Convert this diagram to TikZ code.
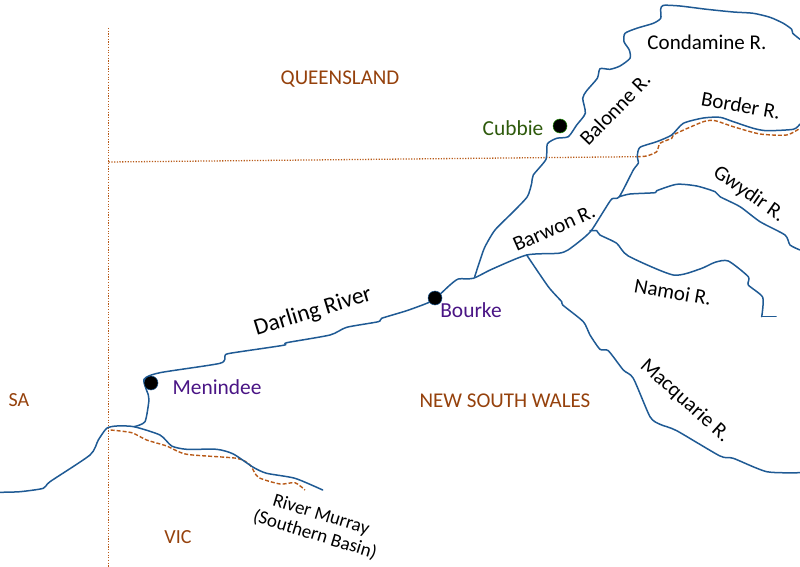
\documentclass[tikz,border=0pt]{standalone}
\usepackage{fontspec}
\setmainfont{Carlito}
\usepackage{xcolor}
\usetikzlibrary{shapes.geometric}
\definecolor{riverblue}{HTML}{1F5A94}
\definecolor{borderbrown}{HTML}{B85A18}
\definecolor{statebrown}{HTML}{95410C}
\definecolor{townpurple}{HTML}{4A1585}
\definecolor{farmgreen}{HTML}{2E5A0C}
\tikzstyle{river} = [draw=riverblue, line width=1.5pt, line join=round, line cap=round]
\tikzstyle{border} = [draw=borderbrown, line width=1.4pt, dash pattern=on 4pt off 2pt]
\tikzstyle{stateline} = [draw=borderbrown, line width=1.3pt, dash pattern=on 1.2pt off 1.5pt]
\tikzstyle{statename} = [text=statebrown, font=\fontsize{21}{24}\selectfont, inner sep=0pt]
\tikzstyle{rivername} = [text=black, font=\fontsize{21}{24}\selectfont, inner sep=0pt, align=center]
\tikzstyle{town} = [circle, fill=black, draw=riverblue, line width=0.5pt, minimum size=14pt, inner sep=0pt]
\tikzstyle{townname} = [text=townpurple, font=\fontsize{21.4}{24}\selectfont, inner sep=0pt]

\begin{document}
\begin{tikzpicture}[x=1pt,y=-1pt]
    \useasboundingbox (0,0) rectangle (800,567);

    % state borders
    \draw [stateline] (108.7,28) -- (108.7,567);
    \draw [stateline] (108.7,162) -- (636.7,156.7);
    \draw [border] plot[smooth, tension=0.4] coordinates {(636.7,156.7) (646.7,156) (656.7,151.7) (660,143.3) (671.7,138.3) (675,134) (703.3,121.7) (715,120.7) (733.3,126.7) (760,134) (786.7,135) (800,128.3)};
    \draw [border] plot[smooth, tension=0.4] coordinates {(110.7,430) (131.7,432.7) (146.7,440) (166.7,446) (186.7,454.3) (236.7,458.3) (250,465) (258.3,477.3) (280,484) (295,482.7) (305,490)};

    % rivers
    \draw [river] plot[smooth, tension=0.4] coordinates {(800,39.3) (792.7,33.3) (791.7,29.3) (783.3,23.3) (770,17.3) (753.3,13.3) (733.3,12) (706.7,9.3) (680,6) (663.3,5.3) (660.7,9.3) (660.7,18.3) (653.3,23.3) (636.7,28.3) (625,33.3) (624,41.7) (629.3,50) (630,58.3) (620,66) (610,69.3) (600,68.7) (597.3,78.3) (586.7,90.7) (582.7,98.3) (585.3,113.3) (576.7,125) (568.3,136.7) (556.7,138.3) (547.3,144) (546,159.3) (533.3,175) (531.7,183.3) (527.3,196.7) (513.3,211.7) (495,230) (485,246.7) (480.7,258.3) (474.7,276.7)};
    \draw [river] plot[smooth, tension=0.4] coordinates {(800,124) (793.3,129.3) (766.7,130.7) (753.3,128.3) (733.3,121.7) (720,117.3) (703.3,118) (683.3,123.3) (671.7,135) (656.7,141.7) (640,147.3) (637.3,156) (638.3,163.3) (633.3,170) (619.3,196.7) (611.7,199) (603.3,211.7) (591.7,230) (583.3,238.3) (568,250) (558.3,253.3) (526.7,255) (491.7,269.3) (473.3,278.3) (458.3,279) (450,285) (441.7,292.7) (435,298.3) (428.3,302.7) (406.7,310.7) (381.7,318.3) (378.3,321.7) (346.7,327.3) (330,335) (286.7,342.7) (283.3,345.3) (230,353.3) (225,356) (220,363.3) (160,372.7) (144,379.3) (148.3,395) (149,400) (145,421.7) (134,426.7)};
    \draw [river] plot[smooth, tension=0.4] coordinates {(619.3,196.7) (630,194) (655,192.7) (656.7,190.7) (676.7,184.3) (696.7,186) (715,191.7) (720,196.7) (740,206.7) (760,221.7) (785,235) (790,245) (800,250)};
    \draw [river] plot[smooth, tension=0.4] coordinates {(590,230.7) (596.7,230.7) (600,235) (616.7,243.3) (628.3,256) (673.3,275) (700,269) (715,262.3) (728.3,261) (748.3,276.7) (748.3,285) (762.7,297.3) (761.7,316.7)};
    \draw [river] (761.7,316.7) -- (776,316.7);
    \draw [river] plot[smooth, tension=0.4] coordinates {(526.7,255) (548.3,286.7) (561.7,301.7) (562.7,305) (583.3,321.7) (590,335) (600,349.3) (608.3,350.7) (623.3,370) (633.3,378.3) (650,416.7) (660,424.3) (676.7,430.7) (720,456) (733.3,458.3) (766.7,471.7) (800,472.7)};
    \draw [river] plot[smooth, tension=0.4] coordinates {(0,492.3) (20,491.7) (43.3,488.3) (50,481.7) (90,455) (98.3,440) (106.7,428.3) (116.7,426) (134,426.7) (160,435) (171.7,446) (186.7,449.3) (216.7,449.3) (233.3,454) (253.3,467.3) (266.7,473.3) (295,478.3) (322.7,490)};

    % towns
    \node (menindee) [town] at (151,383) {};
    \node (bourke) [town] at (435,298) {};
    \node (cubbie) [town, draw=farmgreen!70!green] at (560,126) {};
    \node (menindeeName) [townname] at (217,387) {Menindee};
    \node (bourkeName) [townname] at (471,310) {Bourke};
    \node (cubbieName) [townname, text=farmgreen] at (513,128) {Cubbie};

    % states
    \node (qld) [statename] at (340,79) {QUEENSLAND};
    \node (nsw) [statename] at (505,401) {NEW SOUTH WALES};
    \node (sa) [statename, font=\fontsize{20}{24}\selectfont] at (19,400) {SA};
    \node (vic) [statename, font=\fontsize{20}{24}\selectfont] at (178,537) {VIC};

    % river names
    \node (condamine) [rivername] at (707,42) {Condamine R.};
    \node (balonne) [rivername, rotate=46] at (615,109) {Balonne R.};
    \node (borderR) [rivername, rotate=-10] at (741,105) {Border R.};
    \node (barwon) [rivername, rotate=24] at (554,228) {Barwon R.};
    \node (gwydir) [rivername, rotate=-35] at (749,194) {Gwydir R.};
    \node (namoi) [rivername, rotate=-10] at (673,292) {Namoi R.};
    \node (macquarie) [rivername, rotate=-42] at (685,401) {Macquarie R.};
    \node (darling) [rivername, font=\fontsize{23.5}{26}\selectfont, rotate=17] at (313,312) {Darling River};
    \node (murray) [rivername, font=\fontsize{19}{21}\selectfont, rotate=-17] at (318,525) {River Murray\\(Southern Basin)};
\end{tikzpicture}
\end{document}
